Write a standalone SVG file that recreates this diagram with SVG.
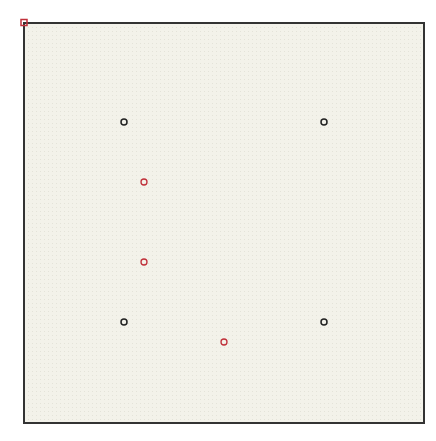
<svg xmlns="http://www.w3.org/2000/svg" width="436" height="441" viewBox="0 0 436 441">
<defs>
<pattern id="grid" width="4" height="4" patternUnits="userSpaceOnUse" x="24" y="23">
<rect width="4" height="4" fill="#f3f2ea"/>
<rect width="1" height="1" fill="#e4e3d9"/>
</pattern>
<style>
.pt{fill:none;stroke:#222;stroke-width:1.5}
.rp{fill:none;stroke:#c0303a;stroke-width:1.3}
</style>
</defs>
<rect width="436" height="441" fill="#ffffff"/>
<g id="frame">
<rect x="24" y="23" width="400" height="400" fill="url(#grid)" stroke="#333" stroke-width="2"/>
</g>
<g id="corner"><rect x="21" y="19.5" width="6" height="6" fill="none" stroke="#c0303a" stroke-width="1.5"/></g>
<g id="p1"><circle class="pt" cx="124" cy="122" r="3"/></g>
<g id="p2"><circle class="pt" cx="324" cy="122" r="3"/></g>
<g id="p3"><circle class="pt" cx="124" cy="322" r="3"/></g>
<g id="p4"><circle class="pt" cx="324" cy="322" r="3"/></g>
<g id="r1"><circle class="rp" cx="144" cy="182" r="3"/></g>
<g id="r2"><circle class="rp" cx="144" cy="262" r="3"/></g>
<g id="r3"><circle class="rp" cx="224" cy="342" r="3"/></g>
<g id="connectors"></g>
</svg>
